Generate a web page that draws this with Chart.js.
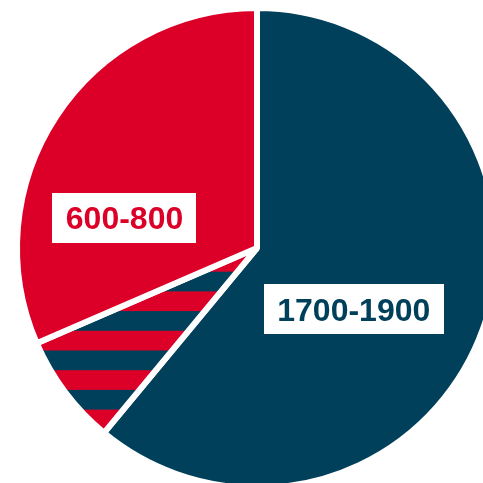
<!DOCTYPE html>
<html>
<head>
<meta charset="utf-8">
<script src="https://cdn.jsdelivr.net/npm/chart.js@4/dist/chart.umd.min.js"></script>
<style>
  html, body { margin: 0; padding: 0; background: #fff; overflow: hidden; }
  #wrap { position: absolute; left: 0; top: 0; width: 483px; height: 483px; }
</style>
</head>
<body>
<div id="wrap"><canvas id="rangeChart" width="483" height="483"></canvas></div>
<script>
// slice names (empty = no label box) and shares in percent, clockwise from 12 o'clock
const categories = ['1700-1900', '', '600-800'];
const shares = [61, 7.5, 31.5];

const RED = '#dc0028';
const NAVY = '#00405a';

// horizontal red / navy stripes for the middle slice
function stripes() {
  const c = document.createElement('canvas');
  c.width = 1;
  c.height = 40;
  const g = c.getContext('2d');
  g.fillStyle = RED;
  g.fillRect(0, 0, 1, 20);
  g.fillStyle = NAVY;
  g.fillRect(0, 20, 1, 20);
  const p = g.createPattern(c, 'repeat');
  p.setTransform(new DOMMatrix().translate(0, 15.6).scale(1, 0.985));
  return p;
}

// white boxes with the range text, placed by angle (deg, canvas) and fraction of radius
const boxLabels = {
  id: 'boxLabels',
  afterDatasetsDraw(chart, args, opts) {
    const ctx = chart.ctx;
    const meta = chart.getDatasetMeta(0);
    ctx.save();
    ctx.font = 'bold 32px "Liberation Sans", Arial, sans-serif';
    meta.data.forEach((arc, i) => {
      const text = chart.data.labels[i];
      const place = opts.place[i];
      if (!text || !place) return;
      const a = place.angle * Math.PI / 180;
      const cx = arc.x + Math.cos(a) * place.dist * arc.outerRadius;
      const cy = arc.y + Math.sin(a) * place.dist * arc.outerRadius;
      const w = ctx.measureText(text).width + 2 * opts.padX;
      const h = opts.height;
      ctx.fillStyle = '#fff';
      ctx.fillRect(Math.round(cx - w / 2), Math.round(cy - h / 2), Math.round(w), h);
      ctx.fillStyle = opts.colors[i];
      ctx.textAlign = 'center';
      ctx.textBaseline = 'alphabetic';
      ctx.fillText(text, cx, cy + 11.5);
    });
    ctx.restore();
  }
};

new Chart(document.getElementById('rangeChart'), {
  type: 'pie',
  data: {
    labels: categories,
    datasets: [{
      data: shares,
      backgroundColor: [NAVY, stripes(), RED],
      borderColor: '#fff',
      borderWidth: 6,
      hoverOffset: 0,
      offset: 0,
      clip: false
    }]
  },
  options: {
    responsive: false,
    animation: false,
    radius: 240,
    layout: { padding: { left: 31, top: 13 } },
    plugins: {
      legend: { display: false },
      tooltip: { enabled: false },
      boxLabels: {
        place: [{ angle: 32.3, dist: 0.477 }, null, { angle: -167.2, dist: 0.566 }],
        colors: [NAVY, null, RED],
        padX: 13.5,
        height: 50
      }
    }
  },
  plugins: [boxLabels]
});
</script>
</body>
</html>
